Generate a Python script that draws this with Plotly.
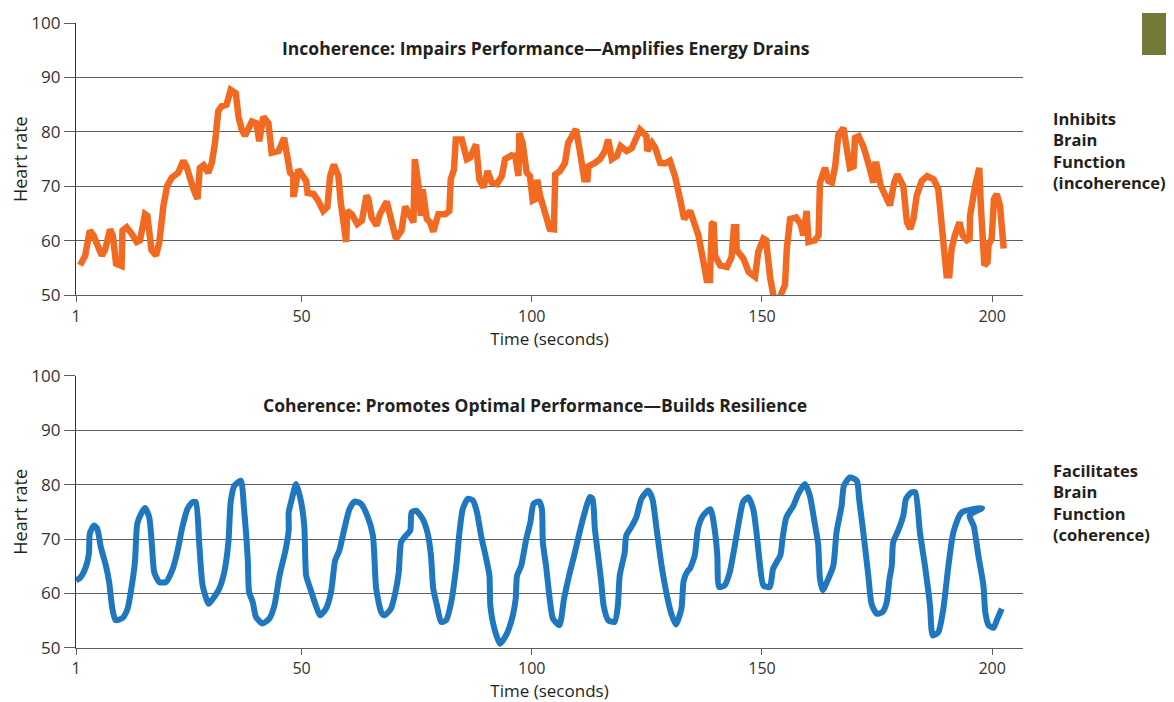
import plotly.graph_objects as go

# ---------------- data ----------------
incoherence_time = [
    1.9, 3.0, 4.0, 4.8, 6.6, 7.3, 8.4, 9.0, 9.7, 10.9, 11.1, 12.0, 13.1, 14.2, 14.9, 16.0, 16.5,
    17.4, 18.4, 19.1, 20.0, 20.8, 21.8, 23.2, 24.3, 25.0, 26.5, 27.4, 27.9, 28.7, 29.7, 30.5,
    31.2, 31.9, 32.6, 33.7, 34.6, 35.7, 36.3, 37.0, 37.7, 39.2, 40.2, 40.8, 41.7, 42.8, 43.5,
    45.0, 46.2, 46.9, 47.5, 48.2, 48.2, 48.4, 49.3, 50.2, 51.0, 51.3, 52.6, 53.6, 54.7, 55.6,
    56.2, 57.0, 58.0, 58.5, 59.1, 59.7, 59.9, 60.9, 62.1, 63.1, 64.1, 64.5, 65.2, 66.3, 67.0,
    68.5, 69.6, 70.5, 71.7, 72.5, 73.2, 74.3, 74.6, 75.4, 75.9, 76.3, 77.2, 77.9, 78.6, 79.7,
    81.2, 82.1, 82.4, 83.1, 83.5, 84.8, 85.9, 86.6, 87.9, 88.6, 89.5, 90.4, 91.3, 92.4, 93.5,
    94.2, 95.6, 96.4, 97.1, 97.3, 98.0, 98.9, 99.6, 100.2, 100.9, 101.2, 101.8, 102.9, 103.9,
    104.8, 105.1, 106.1, 107.2, 107.9, 109.6, 110.5, 111.4, 112.1, 112.3, 113.7, 114.8, 115.9,
    116.6, 117.4, 118.5, 119.3, 120.6, 121.7, 122.6, 123.5, 124.9, 125.1, 126.1, 126.8, 127.9,
    128.9, 130.0, 131.1, 132.2, 133.1, 134.4, 136.2, 137.3, 138.0, 138.7, 139.1, 139.5, 139.8,
    140.9, 142.4, 143.4, 143.9, 144.4, 144.5, 146.0, 147.1, 148.5, 149.2, 150.3, 150.9, 151.8,
    152.9, 153.6, 154.1, 155.0, 155.4, 156.1, 157.4, 158.4, 159.0, 159.7, 160.1, 161.5, 162.3,
    162.6, 163.7, 164.4, 165.2, 165.9, 166.6, 167.7, 168.4, 169.1, 169.9, 170.2, 171.0, 172.0,
    173.1, 173.9, 174.2, 174.6, 174.9, 175.8, 176.8, 177.8, 178.7, 179.4, 180.7, 181.5, 182.2,
    182.9, 183.6, 184.7, 185.9, 187.3, 188.3, 189.1, 189.8, 190.1, 190.7, 191.2, 191.9, 192.9,
    193.6, 194.5, 195.1, 195.2, 196.3, 197.2, 197.5, 198.0, 198.3, 199.0, 199.2, 199.9, 200.4,
    201.0, 201.7, 202.5,
]
incoherence_hr = [
    55.5, 57.3, 61.9, 61.0, 57.3, 58.3, 62.1, 61.0, 55.8, 55.4, 61.9, 62.5, 61.3, 59.8, 60.1, 64.9, 64.6,
    58.3, 57.3, 59.8, 66.5, 70.1, 71.6, 72.5, 74.7, 73.7, 69.5, 67.7, 73.4, 73.9, 72.5, 74.3,
    78.0, 83.8, 84.7, 85.0, 87.7, 87.1, 82.8, 80.4, 79.3, 81.9, 81.6, 78.3, 82.8, 81.6, 76.2,
    76.5, 78.9, 75.6, 72.5, 71.9, 68.6, 68.6, 73.1, 71.9, 71.0, 68.8, 68.6, 67.4, 65.5, 66.2,
    71.9, 74.0, 71.9, 67.1, 64.0, 59.8, 65.5, 64.9, 63.1, 63.7, 68.3, 67.7, 64.3, 62.8, 64.9,
    67.2, 63.4, 60.4, 61.9, 66.3, 65.2, 63.4, 75.0, 70.1, 64.6, 69.5, 64.0, 63.4, 61.7, 64.9,
    64.9, 65.5, 71.3, 73.1, 78.6, 78.6, 75.0, 75.3, 77.7, 71.3, 69.8, 72.8, 70.7, 70.4, 71.9,
    75.0, 75.7, 75.6, 71.9, 79.8, 78.0, 72.5, 71.9, 67.4, 67.7, 71.2, 68.3, 64.6, 62.2,
    62.1, 72.2, 72.8, 74.3, 78.0, 80.5, 76.2, 71.3, 71.3, 73.7, 74.3, 75.0, 76.5,
    78.6, 75.0, 75.6, 77.4, 76.5, 77.0, 78.9, 80.4, 79.2, 76.5, 78.0, 77.1, 74.3,
    74.2, 74.7, 71.9, 67.7, 64.0, 65.5, 61.0, 56.1, 52.8, 52.8, 63.1, 63.4, 57.3,
    55.5, 55.2, 57.0, 62.5, 62.5, 58.3, 56.7, 54.3, 53.4, 58.0, 60.4, 60.1, 53.1,
    48.2, 47.9, 50.1, 51.9, 58.6, 64.0, 64.3, 63.1, 61.0, 65.5, 59.8, 60.1, 61.0,
    70.7, 73.4, 71.0, 70.7, 73.7, 79.5, 80.7, 77.1, 73.4, 73.7, 78.9, 79.2, 77.4,
    74.3, 71.9, 70.7, 74.0, 74.0, 70.1, 68.6, 66.5, 70.7, 72.2, 70.1, 63.4, 62.2,
    64.0, 68.3, 71.0, 71.9, 71.3, 69.5, 62.8, 58.6, 53.7, 53.7, 58.6, 61.0, 63.4,
    61.0, 60.1, 60.4, 64.6, 70.1, 73.4, 67.1, 58.6, 55.5, 56.1, 59.2, 60.4, 67.7,
    68.6, 66.5, 58.6,
]

coherence_time = [
    1.0, 2.0, 3.1, 3.8, 4.0, 4.9, 5.6, 6.4, 7.5, 8.2, 8.9, 9.6, 11.1, 12.2, 12.9, 13.8, 14.3,
    15.1, 16.0, 16.9, 17.5, 18.0, 19.1, 20.5, 22.0, 23.0, 24.1, 25.2, 26.3, 27.0, 27.8, 28.5,
    29.8, 30.7, 32.1, 33.2, 34.1, 34.6, 35.4, 36.8, 37.5, 38.3, 38.6, 39.4, 40.1, 41.5, 43.0,
    44.1, 45.2, 46.5, 47.2, 47.2, 47.9, 48.8, 49.9, 50.6, 51.0, 52.0, 53.1, 54.0, 55.3, 56.4,
    57.3, 58.2, 59.3, 60.4, 61.5, 62.9, 64.4, 65.5, 66.2, 67.3, 68.0, 69.4, 70.4, 71.1, 71.6,
    72.3, 73.6, 73.9, 74.9, 76.3, 77.4, 78.1, 78.6, 79.4, 80.3, 81.4, 82.5, 83.6, 84.3, 85.0,
    86.1, 87.2, 88.1, 89.0, 90.1, 90.8, 91.0, 91.9, 93.1, 94.4, 95.8, 96.5, 96.8, 97.7, 98.8,
    99.7, 100.4, 101.6, 102.2, 102.4, 103.1, 103.9, 104.6, 106.0, 107.0, 108.1, 109.3, 110.4,
    111.5, 112.6, 113.2, 113.7, 114.4, 115.1, 115.6, 116.6, 118.0, 118.7, 119.1, 120.2, 120.5,
    121.6, 122.7, 123.8, 125.3, 126.2, 127.1, 128.2, 129.2, 130.3, 131.3, 132.5, 133.0, 133.9,
    134.3, 135.4, 136.1, 137.2, 138.8, 139.8, 140.3, 140.7, 141.9, 143.0, 144.1, 145.1, 145.9,
    147.0, 148.1, 148.8, 149.5, 150.3, 151.7, 152.4, 153.2, 154.0, 154.5, 155.3, 156.8, 157.9,
    159.3, 160.4, 161.3, 162.2, 162.6, 163.2, 164.4, 165.5, 166.2, 167.3, 167.8, 169.1, 170.6,
    171.1, 172.0, 173.1, 173.8, 174.9, 176.2, 177.1, 177.7, 178.2, 178.5, 179.6, 180.7, 181.3,
    182.5, 183.3, 184.3, 185.4, 186.5, 187.1, 188.3, 189.4, 190.5, 191.6, 193.4, 197.8, 195.1,
    196.0, 197.0, 198.1, 198.5, 199.2, 200.3, 201.0, 202.1,
]
coherence_hr = [
    62.4, 63.0, 64.8, 67.3, 71.0, 72.5, 71.9, 68.5, 65.1, 62.1, 57.2, 55.1, 55.5, 57.2, 60.3, 65.8, 72.8,
    74.6, 75.7, 74.0, 68.8, 63.9, 62.1, 62.1, 64.5, 67.6, 72.2, 75.5, 76.8, 76.8, 68.8, 61.5,
    58.1, 59.0, 60.9, 63.9, 69.4, 76.8, 79.8, 80.7, 75.5, 66.4, 60.3, 58.4, 55.7, 54.5, 55.4,
    57.8, 63.3, 67.9, 71.6, 74.9, 77.4, 80.1, 76.8, 72.2, 63.3, 60.6, 57.8, 56.0, 57.2, 60.3,
    66.1, 67.9, 71.9, 75.5, 76.9, 76.5, 74.0, 70.6, 60.9, 56.6, 56.0, 57.2, 60.3, 63.9, 69.4,
    70.3, 71.6, 74.9, 75.2, 73.7, 71.0, 67.0, 60.9, 57.8, 54.8, 55.1, 58.4, 65.1, 71.3, 75.5,
    77.4, 77.1, 74.9, 70.6, 66.4, 63.3, 57.8, 53.5, 50.8, 52.3, 55.7, 59.0, 63.3, 65.1, 70.0,
    73.1, 76.5, 76.9, 75.5, 69.4, 65.1, 59.0, 55.4, 54.2, 59.0, 63.3, 67.3, 71.3,
    74.9, 77.7, 77.4, 71.9, 67.0, 62.1, 57.8, 55.1, 54.8, 57.8, 63.3, 67.6, 70.6,
    72.2, 74.0, 77.4, 78.9, 77.4, 71.9, 65.1, 60.3, 56.3, 54.3, 57.2, 62.4, 64.2,
    64.5, 67.0, 71.9, 74.3, 75.5, 71.3, 67.0, 61.2, 61.5, 63.9, 68.8, 73.7, 76.8,
    77.7, 75.5, 71.3, 65.8, 61.5, 61.2, 64.5, 65.8, 67.0, 70.3, 74.0, 76.1, 78.3,
    80.1, 78.0, 73.7, 69.1, 62.7, 60.6, 62.7, 65.1, 71.3, 76.1, 79.8, 81.3, 80.7,
    77.4, 71.3, 63.3, 58.1, 56.3, 56.6, 58.4, 62.7, 65.1, 69.4, 71.6, 74.3, 77.4,
    78.6, 78.6, 71.3, 65.1, 57.8, 52.3, 52.9, 57.2, 65.1, 71.3, 74.9, 75.7, 74.3,
    72.4, 67.0, 61.5, 56.6, 54.2, 53.7, 55.1, 57.2,
]

x_ticks = [1, 50, 100, 150, 200]
y_ticks = [50, 60, 70, 80, 90, 100]

top_title = "Incoherence: Impairs Performance—Amplifies Energy Drains"
bottom_title = "Coherence: Promotes Optimal Performance—Builds Resilience"
top_side = ["Inhibits", "Brain", "Function", "(incoherence)"]
bottom_side = ["Facilitates", "Brain", "Function", "(coherence)"]

# ---------------- figure ----------------
FONT = "Open Sans"
TXT = "#231f20"
GRID = "#5e5e5e"

fig = go.Figure()
fig.add_trace(go.Scatter(x=incoherence_time, y=incoherence_hr, mode="lines",
                         line=dict(color="#f26a21", width=6.5), xaxis="x", yaxis="y",
                         showlegend=False, hoverinfo="skip"))
fig.add_trace(go.Scatter(x=coherence_time, y=coherence_hr, mode="lines",
                         line=dict(color="#1f78bf", width=6, shape="spline", smoothing=0.6),
                         xaxis="x2", yaxis="y2", showlegend=False, hoverinfo="skip"))

def xaxis_cfg(anchor):
    return dict(anchor=anchor, range=[1, 206.7], tickvals=x_ticks, ticktext=[str(v) for v in x_ticks],
                showgrid=False, zeroline=False, showline=True, linecolor=GRID, linewidth=1.3,
                ticks="outside", ticklen=6, tickwidth=1.2, tickcolor=GRID, automargin=False,
                tickfont=dict(family=FONT, size=16, color="#333333"),
                title=dict(text="Time (seconds)", font=dict(family=FONT, size=17, color=TXT), standoff=4))

def yaxis_cfg(anchor, domain):
    return dict(anchor=anchor, domain=domain, range=[50, 100], tickvals=y_ticks,
                showgrid=True, gridcolor=GRID, gridwidth=1.3, zeroline=False,
                showline=True, linecolor="#333333", linewidth=1.3, automargin=False,
                ticks="outside", ticklen=11, tickwidth=1.3, tickcolor=GRID,
                tickfont=dict(family=FONT, size=17, color="#333333"),
                title=dict(text="Heart rate", font=dict(family=FONT, size=18, color=TXT), standoff=0))

# the page shows the figure with an 8 px offset, so the figure is 8 px smaller each way
fig.update_layout(
    width=1166, height=694,
    paper_bgcolor="white", plot_bgcolor="white",
    margin=dict(l=68, r=151, t=15, b=54, autoexpand=False),
    xaxis=xaxis_cfg("y"),
    yaxis=yaxis_cfg("x", [0.5643, 1.0]),
    xaxis2=xaxis_cfg("y2"),
    yaxis2=yaxis_cfg("x2", [0.0, 0.4357]),
    font=dict(family=FONT, color=TXT),
)

fig.add_annotation(text="<b>%s</b>" % top_title, xref="paper", yref="paper", x=0.4963, y=0.96,
                   xanchor="center", yanchor="middle", showarrow=False,
                   font=dict(family=FONT, size=17.5, color=TXT))
fig.add_annotation(text="<b>%s</b>" % bottom_title, xref="paper", yref="paper", x=0.4847, y=0.3888,
                   xanchor="center", yanchor="middle", showarrow=False,
                   font=dict(family=FONT, size=17.5, color=TXT))
fig.add_annotation(text="<br>".join("<b>%s</b>" % s for s in top_side), xref="paper", yref="paper",
                   x=1.0296, y=0.7968, xanchor="left", yanchor="middle", align="left", showarrow=False,
                   font=dict(family=FONT, size=16.5, color=TXT))
fig.add_annotation(text="<br>".join("<b>%s</b>" % s for s in bottom_side), xref="paper", yref="paper",
                   x=1.0296, y=0.2336, xanchor="left", yanchor="middle", align="left", showarrow=False,
                   font=dict(family=FONT, size=16.5, color=TXT))

# olive corner block
fig.add_shape(type="rect", xref="paper", yref="paper", x0=1.1257, x1=1.17, y0=0.9488, y1=1.016,
              fillcolor="#737936", line=dict(width=0), layer="above")

fig.write_html("out.html")
